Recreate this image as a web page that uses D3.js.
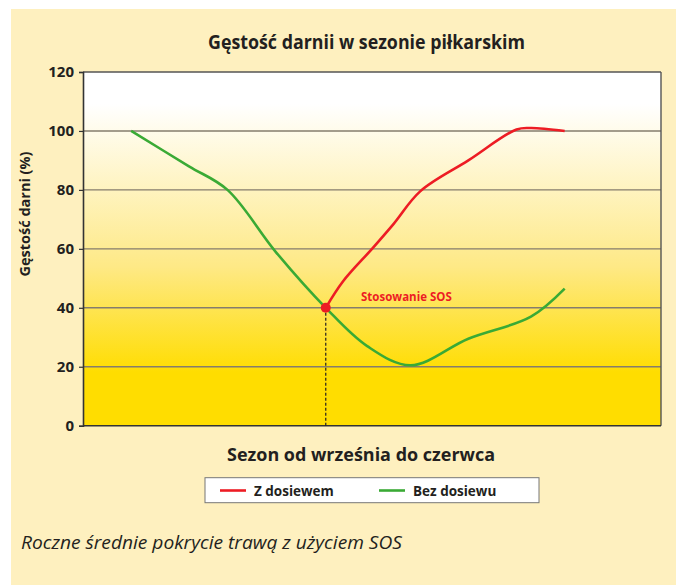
<!DOCTYPE html>
<html><head><meta charset="utf-8">
<script src="https://cdn.jsdelivr.net/npm/d3@7"></script>
<style>body{margin:0;background:#fff}svg{display:block}text{font-family:"Open Sans","Noto Sans",sans-serif}</style>
</head><body>
<svg id="c" width="676" height="585"></svg>
<script>
const title = "Gęstość darnii w sezonie piłkarskim";
const yLabel = "Gęstość darni (%)";
const xLabel = "Sezon od września do czerwca";
const caption = "Roczne średnie pokrycie trawą z użyciem SOS";
const annotation = "Stosowanie SOS";
const yTicks = [0, 20, 40, 60, 80, 100, 120];
const seriesNames = ["Z dosiewem", "Bez dosiewu"];
// x: season progress in months (0 = September, 9 = June)
const greenX = [0, 1.2, 2, 3, 4.04, 4.9, 5.8, 7, 8.3, 9];
const greenY = [100, 88, 80, 59, 40, 27, 20.5, 29.5, 37, 46.5];
const redX = [4.04, 4.4, 5, 5.45, 6, 7, 8, 8.3, 9];
const redY = [40, 49, 60, 68.5, 79.5, 90, 100.5, 101, 100];
const sosX = 4.04, sosY = 40;

const svg = d3.select("#c");
const W = 676, H = 585;
const m = {l: 83, r: 661, t: 72, b: 425.7};

svg.append("rect").attr("x", 11).attr("y", 9).attr("width", W - 11).attr("height", H - 9).attr("fill", "#FEF0BF");

const x = d3.scaleLinear().domain([-1, 11]).range([m.l, m.r]);
const y = d3.scaleLinear().domain([0, 120]).range([m.b, m.t]);

const defs = svg.append("defs");
const g = defs.append("linearGradient").attr("id", "gr").attr("x1", 0).attr("y1", 0).attr("x2", 0).attr("y2", 1);
g.append("stop").attr("offset", "0%").attr("stop-color", "#FFFFFF");
g.append("stop").attr("offset", "9%").attr("stop-color", "#FFFFFF");
g.append("stop").attr("offset", "55%").attr("stop-color", "#FEE986");
g.append("stop").attr("offset", "85%").attr("stop-color", "#FFDD00");
g.append("stop").attr("offset", "100%").attr("stop-color", "#FFDD00");

svg.append("rect").attr("x", m.l).attr("y", m.t).attr("width", m.r - m.l).attr("height", m.b - m.t).attr("fill", "url(#gr)");

// gridlines
svg.append("g").selectAll("line").data(yTicks.filter(d => d > 0 && d < 120)).join("line")
  .attr("x1", m.l).attr("x2", m.r).attr("y1", d => y(d)).attr("y2", d => y(d))
  .attr("stroke", "#857d6d").attr("stroke-width", 1.4);

// frame
svg.append("line").attr("x1", m.l).attr("x2", m.r).attr("y1", m.t).attr("y2", m.t).attr("stroke", "#555").attr("stroke-width", 1.4);
svg.append("line").attr("x1", m.r).attr("x2", m.r).attr("y1", m.t).attr("y2", m.b).attr("stroke", "#555").attr("stroke-width", 1.4);
svg.append("line").attr("x1", m.l).attr("x2", m.r).attr("y1", m.b).attr("y2", m.b).attr("stroke", "#333").attr("stroke-width", 1.6);

// y axis
const yAxis = svg.append("g").attr("transform", `translate(${m.l},0)`)
  .call(d3.axisLeft(y).tickValues(yTicks).tickSize(4).tickPadding(5).tickFormat(d3.format("d")));
yAxis.select(".domain").attr("stroke", "#333").attr("stroke-width", 1.6);
yAxis.selectAll(".tick line").attr("stroke", "#333").attr("stroke-width", 1.2);
yAxis.selectAll(".tick text").attr("font-size", 15).attr("font-weight", "bold").attr("fill", "#231f20")
  .attr("font-family", "'Open Sans',sans-serif");

// dotted line
svg.append("line").attr("x1", x(sosX)).attr("x2", x(sosX)).attr("y1", y(sosY)).attr("y2", m.b)
  .attr("stroke", "#231f20").attr("stroke-width", 1.2).attr("stroke-dasharray", "3,2");

const line = d3.line().x(d => x(d[0])).y(d => y(d[1])).curve(d3.curveCatmullRom.alpha(0.5));
svg.append("path").attr("d", line(greenX.map((v, i) => [v, greenY[i]]))).attr("fill", "none")
  .attr("stroke", "#3AAA35").attr("stroke-width", 2.6);
svg.append("path").attr("d", line(redX.map((v, i) => [v, redY[i]]))).attr("fill", "none")
  .attr("stroke", "#ED1C24").attr("stroke-width", 2.6);
svg.append("circle").attr("cx", x(sosX)).attr("cy", y(sosY)).attr("r", 5).attr("fill", "#ED1C24");

svg.append("text").attr("x", 361).attr("y", 301).attr("font-size", 11.5).attr("font-weight", "bold")
  .attr("fill", "#ED1C24").text(annotation);

// titles
svg.append("text").attr("x", 366.5).attr("y", 48.5).attr("text-anchor", "middle").attr("font-size", 19)
  .attr("font-weight", "bold").attr("fill", "#231f20").attr("textLength", 317).attr("lengthAdjust", "spacingAndGlyphs").text(title);
svg.append("text").attr("transform", "translate(30,214) rotate(-90)").attr("text-anchor", "middle")
  .attr("font-size", 13.5).attr("font-weight", "bold").attr("fill", "#231f20")
  .attr("textLength", 125).attr("lengthAdjust", "spacingAndGlyphs").text(yLabel);
svg.append("text").attr("x", 361).attr("y", 461).attr("text-anchor", "middle").attr("font-size", 18.5)
  .attr("font-weight", "bold").attr("fill", "#231f20").attr("textLength", 268).attr("lengthAdjust", "spacingAndGlyphs").text(xLabel);

// legend
svg.append("rect").attr("x", 205).attr("y", 477.7).attr("width", 334).attr("height", 25).attr("fill", "#fff")
  .attr("stroke", "#777").attr("stroke-width", 1);
const legColors = ["#ED1C24", "#3AAA35"];
const legX = [220, 379];
seriesNames.forEach((n, i) => {
  svg.append("line").attr("x1", legX[i]).attr("x2", legX[i] + 26).attr("y1", 490.5).attr("y2", 490.5)
    .attr("stroke", legColors[i]).attr("stroke-width", 2.6);
  svg.append("text").attr("x", legX[i] + 34).attr("y", 495.5).attr("font-size", 13.5).attr("font-weight", "bold")
    .attr("fill", "#231f20").text(n);
});

svg.append("text").attr("x", 21).attr("y", 548.5).attr("font-size", 18.5).attr("font-style", "italic")
  .attr("fill", "#231f20").attr("textLength", 381).attr("lengthAdjust", "spacingAndGlyphs").text(caption);
</script>
</body></html>
